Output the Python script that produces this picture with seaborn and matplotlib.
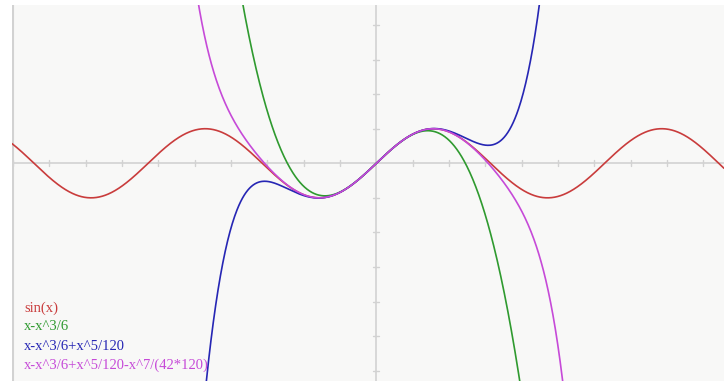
import numpy as np
import pandas as pd
import matplotlib
matplotlib.use('Agg')
import matplotlib.pyplot as plt
import seaborn as sns

# curves: sin(x) and its Taylor polynomials, as named in the legend
labels = ['sin(x)', 'x-x^3/6', 'x-x^3/6+x^5/120', 'x-x^3/6+x^5/120-x^7/(42*120)']
colors = ['#c93c3c', '#2f9a2f', '#2626b4', '#c64ad8']
# Taylor coefficients for x^1, x^3, x^5, x^7
powers = [1, 3, 5, 7]
coefs = [1.0, -1 / 6, 1 / 120, -1 / 5040]
n_terms = [None, 2, 3, 4]

x_min, x_max = -10.03, 9.57
y_min, y_max = -6.3, 4.58

xs = np.linspace(x_min, x_max, 1200)
rows = []
for lab, n in zip(labels, n_terms):
    if n is None:
        ys = np.sin(xs)
    else:
        ys = sum(c * xs ** p for c, p in zip(coefs[:n], powers[:n]))
    rows.append(pd.DataFrame({'x': xs, 'y': ys, 'curve': lab}))
df = pd.concat(rows, ignore_index=True)

sns.set_style('white')
fig = plt.figure(figsize=(7.24, 3.81), dpi=100)
ax = fig.add_axes([12 / 724, 0, 712 / 724, 376 / 381])
ax.set_facecolor('#f8f8f7')

grey = '#d2d2d2'
ax.axhline(0, color=grey, lw=1.2, zorder=1)
ax.axvline(0, color=grey, lw=1.2, zorder=1)
ax.axvline(-10, color=grey, lw=1.5, zorder=1)
# tick marks crossing the axes
for t in range(-10, 10):
    if t != 0:
        ax.plot([t, t], [-0.09, 0.09], color=grey, lw=1, zorder=1)
for t in range(-6, 5):
    if t != 0:
        ax.plot([-0.085, 0.085], [t, t], color=grey, lw=1, zorder=1)

sns.lineplot(data=df, x='x', y='y', hue='curve', palette=dict(zip(labels, colors)),
             hue_order=labels, sort=False, estimator=None, lw=1.2, legend=False, ax=ax)

ax.set_xlim(x_min, x_max)
ax.set_ylim(y_min, y_max)
ax.set_xticks([])
ax.set_yticks([])
ax.set_xlabel('')
ax.set_ylabel('')
for s in ax.spines.values():
    s.set_visible(False)

for i, (lab, col) in enumerate(zip(labels, colors)):
    fig.text(24 / 724, 1 - (308 + 19 * i) / 381, lab, color=col, fontsize=10.5,
             family='Liberation Serif', va='center', ha='left')

fig.savefig('out.png', dpi=100)
